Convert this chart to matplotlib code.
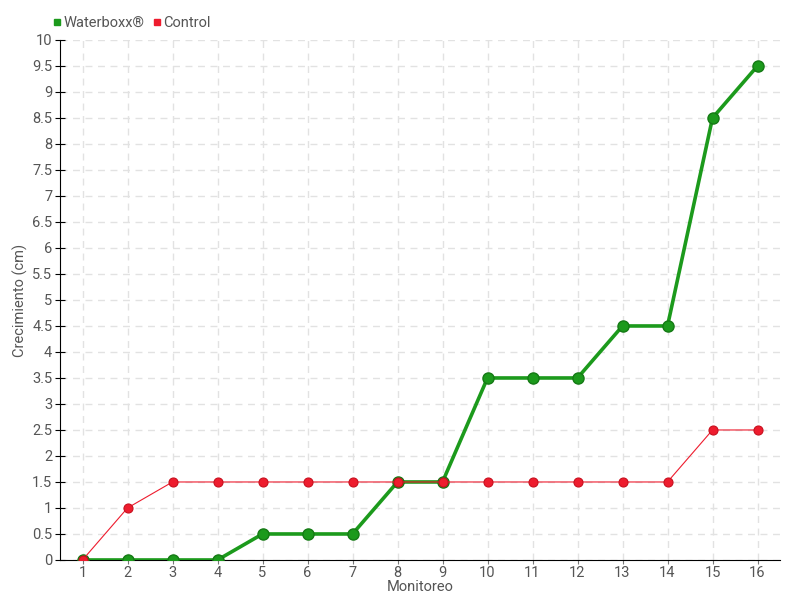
import numpy as np
from matplotlib import pyplot as plt

monitoreo = list(range(1, 17))
waterboxx = [0, 0, 0, 0, 0.5, 0.5, 0.5, 1.5, 1.5, 3.5, 3.5, 3.5, 4.5, 4.5, 8.5, 9.5]
control = [0, 1, 1.5, 1.5, 1.5, 1.5, 1.5, 1.5, 1.5, 1.5, 1.5, 1.5, 1.5, 1.5, 2.5, 2.5]

plt.rcParams['font.family'] = ['Roboto', 'DejaVu Sans']
txt = '#555555'

fig = plt.figure(figsize=(8, 6), dpi=100)
ax = fig.add_axes([0.075, 0.0667, 0.9, 0.8667])

ax.plot(monitoreo, waterboxx, color='#1c9a1c', lw=2.6, marker='o', ms=8,
        mfc='#1c9a1c', mec='#157a15', mew=1, zorder=3, label='Waterboxx®')
ax.plot(monitoreo, control, color='#ee1c2e', lw=0.8, marker='o', ms=6.5,
        mfc='#ee1c2e', mec='#c8101e', mew=0.8, zorder=4, label='Control')

ax.set_xlim(0.5, 16.5)
ax.set_ylim(0, 10)
ax.set_xticks(monitoreo)
ax.set_yticks(np.arange(0, 10.01, 0.5))
ax.set_yticklabels(['%g' % v for v in np.arange(0, 10.01, 0.5)])

ax.grid(True, color='#e2e2e2', linestyle=(0, (5, 4)), lw=1)
ax.set_axisbelow(True)
for s in ['top', 'right']:
    ax.spines[s].set_visible(False)
ax.spines['left'].set_color('black')
ax.spines['bottom'].set_color('black')

ax.tick_params(axis='y', direction='inout', length=7, colors='black',
               labelcolor=txt, labelsize=10.5, pad=2)
ax.tick_params(axis='x', direction='out', length=3, colors='#777777',
               labelcolor=txt, labelsize=10.5, pad=1)

ax.set_xlabel('Monitoreo', color=txt, fontsize=10.5, labelpad=0)
ax.set_ylabel('Crecimiento (cm)', color=txt, fontsize=10.5)
ax.yaxis.set_label_coords(-0.045, 0.5)

ax.legend(loc='lower left', bbox_to_anchor=(-0.024, 1.0), ncol=2, frameon=False,
          handlelength=0.5, handletextpad=0.2, columnspacing=0.6, fontsize=10.5,
          labelcolor=txt, borderaxespad=0.3,
          handles=[plt.Line2D([], [], ls='', marker='s', ms=4.5, color='#1c9a1c', label='Waterboxx®'),
                   plt.Line2D([], [], ls='', marker='s', ms=4.5, color='#ee1c2e', label='Control')])

plt.savefig('out.png')
